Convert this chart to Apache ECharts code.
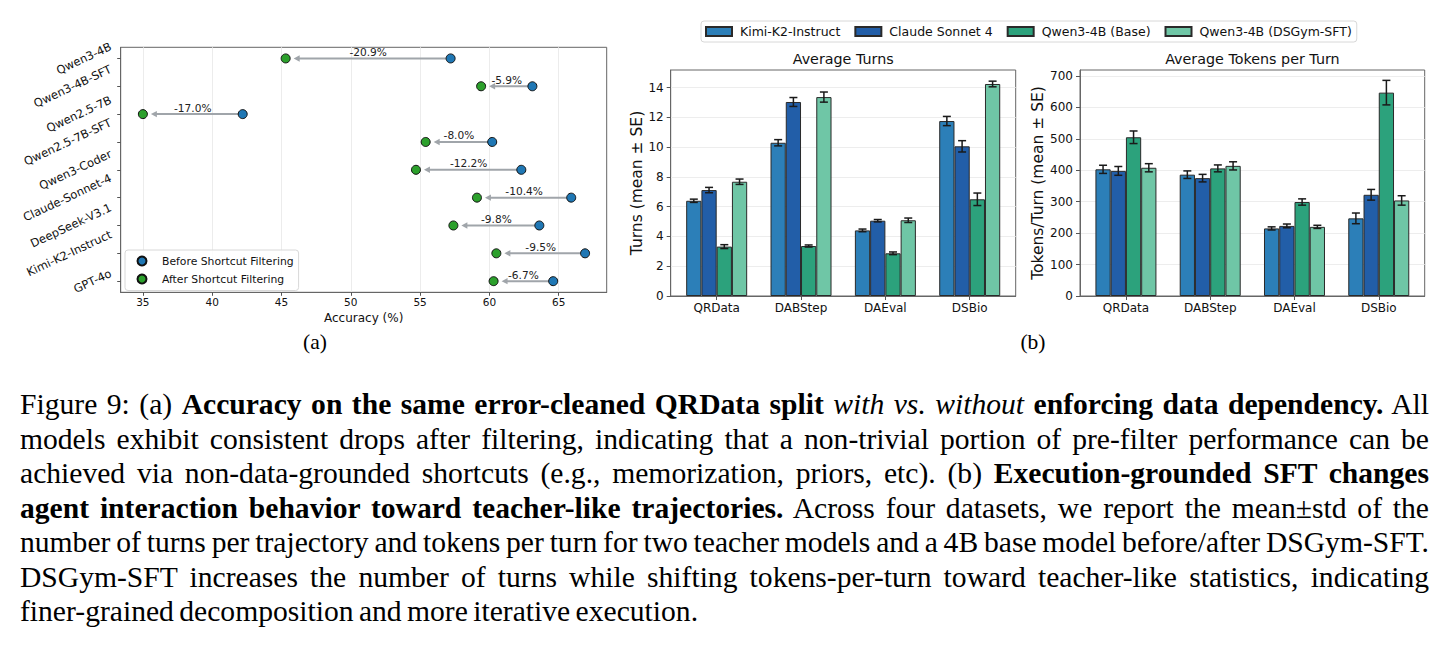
<!DOCTYPE html>
<html>
<head>
<meta charset="utf-8">
<script src="https://cdn.jsdelivr.net/npm/echarts@6/dist/echarts.min.js"></script>
<style>
    body { margin: 0; background: #fff; width: 1451px; height: 650px; overflow: hidden; position: relative; }
    #chart { position: absolute; left: 0; top: 0; width: 1451px; height: 370px; }
    .sub { position: absolute; top: 330px; font-family: "Liberation Serif"; font-size: 21.5px; transform: translateX(-50%); }
    #cap { position: absolute; left: 20px; top: 387.3px; width: 1409px; font-family: "Liberation Serif"; font-size: 29.6px; line-height: 34.5px; word-spacing: -2px; color: #000; }
    #cap div { text-align: justify; text-align-last: justify; }
    #cap div.last { text-align-last: left; }
</style>
</head>
<body>
<div id="chart"></div>
<div class="sub" style="left:315px">(a)</div>
<div class="sub" style="left:1033px">(b)</div>
<div id="cap">
    <div>Figure 9: (a) <b>Accuracy on the same error-cleaned QRData split</b> <i>with vs. without</i> <b>enforcing data dependency.</b> All</div>
    <div>models exhibit consistent drops after filtering, indicating that a non-trivial portion of pre-filter performance can be</div>
    <div>achieved via non-data-grounded shortcuts (e.g., memorization, priors, etc). (b) <b>Execution-grounded SFT changes</b></div>
    <div><b>agent interaction behavior toward teacher-like trajectories.</b> Across four datasets, we report the mean±std of the</div>
    <div>number of turns per trajectory and tokens per turn for two teacher models and a 4B base model before/after DSGym-SFT.</div>
    <div>DSGym-SFT increases the number of turns while shifting tokens-per-turn toward teacher-like statistics, indicating</div>
    <div class="last">finer-grained decomposition and more iterative execution.</div>
</div>
<script>
    // (a) accuracy before / after shortcut filtering
    var models = ['Qwen3-4B', 'Qwen3-4B-SFT', 'Qwen2.5-7B', 'Qwen2.5-7B-SFT', 'Qwen3-Coder',
                  'Claude-Sonnet-4', 'DeepSeek-V3.1', 'Kimi-K2-Instruct', 'GPT-4o'];
    var accBefore = [57.2, 63.1, 42.2, 60.2, 62.3, 65.9, 63.6, 66.9, 64.6];
    var accAfter = [45.3, 59.4, 35.0, 55.4, 54.7, 59.1, 57.4, 60.5, 60.3];
    var dropText = ['-20.9%', '-5.9%', '-17.0%', '-8.0%', '-12.2%', '-10.4%', '-9.8%', '-9.5%', '-6.7%'];
    var accTicks = [35, 40, 45, 50, 55, 60, 65];

    // (b) turns and tokens per turn, one row per agent, one column per dataset
    var datasets = ['QRData', 'DABStep', 'DAEval', 'DSBio'];
    var agents = ['Kimi-K2-Instruct', 'Claude Sonnet 4', 'Qwen3-4B (Base)', 'Qwen3-4B (DSGym-SFT)'];
    var agentColors = ['#2c7fb8', '#225ea8', '#2ca27c', '#6fc6a6'];
    var turnsMean = [
        [6.40, 10.30, 4.41, 11.76],
        [7.12, 13.04, 5.06, 10.06],
        [3.32, 3.36, 2.87, 6.50],
        [7.68, 13.37, 5.09, 14.25]
    ];
    var turnsSE = [
        [0.11, 0.21, 0.09, 0.31],
        [0.18, 0.30, 0.08, 0.38],
        [0.13, 0.07, 0.09, 0.42],
        [0.18, 0.34, 0.15, 0.19]
    ];
    var tokensMean = [
        [403, 386, 215, 247],
        [398, 375, 223, 322],
        [505, 406, 299, 647],
        [408, 414, 220, 304]
    ];
    var tokensSE = [
        [13, 12, 5, 17],
        [14, 12, 6, 17],
        [20, 11, 10, 39],
        [13, 13, 5, 15]
    ];
    var turnTicks = [0, 2, 4, 6, 8, 10, 12, 14];
    var tokenTicks = [0, 100, 200, 300, 400, 500, 600, 700];

    var FONT = 'DejaVu Sans';
    var accMin = 33.4, accMax = 68.46;
    var barW = 15.25;
    var frame = '#666';

    var measureCtx = document.createElement('canvas').getContext('2d');
    function textWidth(s, size) {
        measureCtx.font = size + 'px "' + FONT + '"';
        return measureCtx.measureText(s).width;
    }

    var myChart = echarts.init(document.getElementById('chart'), null, {renderer: 'svg'});

    // rotated model names, placed like matplotlib (bbox centred on the tick)
    var nameSeries = {
        type: 'custom', xAxisIndex: 0, yAxisIndex: 0, clip: false, silent: true,
        data: models.map(function (m, i) { return [accMin, i]; }),
        renderItem: function (params, api) {
            var p = api.coord([api.value(0), api.value(1)]);
            var name = models[params.dataIndex];
            var th = 25 * Math.PI / 180, fs = 11.5;
            var w = textWidth(name, fs);
            return {
                type: 'text',
                x: p[0] - 7 - fs * 0.6 * Math.sin(th),
                y: p[1] - w * Math.sin(th) / 2,
                rotation: th,
                style: {text: name, align: 'right', verticalAlign: 'middle',
                        fontSize: fs, fontFamily: FONT, fill: '#111'}
            };
        }
    };

    // arrows from before to after, with relative drop text
    var arrowSeries = {
        type: 'custom', xAxisIndex: 0, yAxisIndex: 0, silent: true, z: 2,
        encode: {x: [0, 1], y: 2},
        data: models.map(function (m, i) { return [accBefore[i], accAfter[i], i]; }),
        renderItem: function (params, api) {
            var p1 = api.coord([api.value(0), api.value(2)]);
            var p2 = api.coord([api.value(1), api.value(2)]);
            var y = p1[1], tip = p2[0] + 8;
            var grey = '#a0a5aa';
            return {
                type: 'group',
                children: [
                    {type: 'line', shape: {x1: p1[0], y1: y, x2: tip + 4, y2: y},
                     style: {stroke: grey, lineWidth: 2}},
                    {type: 'polygon', shape: {points: [[tip, y], [tip + 6, y - 3.2], [tip + 6, y + 3.2]]},
                     style: {fill: grey}},
                    {type: 'text', x: (p1[0] + p2[0]) / 2, y: y - 6.5,
                     style: {text: dropText[params.dataIndex], align: 'center', verticalAlign: 'middle',
                             fontSize: 10.6, fontFamily: FONT, fill: '#222'}}
                ]
            };
        }
    };

    function barSeries(idx, mean) {
        return agents.map(function (a, s) {
            return {
                type: 'bar', name: a, xAxisIndex: idx, yAxisIndex: idx,
                barWidth: barW, barGap: '0%',
                data: datasets.map(function (d, c) { return [c, mean[s][c]]; }),
                itemStyle: {color: agentColors[s], borderColor: '#2a2a2a', borderWidth: 1}
            };
        });
    }

    function errSeries(idx, mean, se) {
        var data = [];
        agents.forEach(function (a, s) {
            datasets.forEach(function (d, c) {
                data.push([c, mean[s][c] - se[s][c], mean[s][c] + se[s][c], s]);
            });
        });
        return {
            type: 'custom', xAxisIndex: idx, yAxisIndex: idx, silent: true, z: 5,
            encode: {x: 0, y: [1, 2]},
            data: data,
            renderItem: function (params, api) {
                var lo = api.coord([api.value(0), api.value(1)]);
                var hi = api.coord([api.value(0), api.value(2)]);
                var x = lo[0] + (api.value(3) - 1.5) * barW;
                var st = {stroke: '#1a1a1a', lineWidth: 1.5};
                return {
                    type: 'group',
                    children: [
                        {type: 'line', shape: {x1: x, y1: lo[1], x2: x, y2: hi[1]}, style: st},
                        {type: 'line', shape: {x1: x - 4, y1: lo[1], x2: x + 4, y2: lo[1]}, style: st},
                        {type: 'line', shape: {x1: x - 4, y1: hi[1], x2: x + 4, y2: hi[1]}, style: st}
                    ]
                };
            }
        };
    }

    function tickAxis(extra) {
        var base = {
            type: 'value',
            axisLine: {show: true, onZero: false, lineStyle: {color: frame}},
            axisTick: {show: true, length: 4, lineStyle: {color: '#555'}},
            axisLabel: {color: '#111', fontFamily: FONT, fontSize: 12},
            nameTextStyle: {color: '#111', fontFamily: FONT},
            splitLine: {show: false}
        };
        for (var k in extra) {
            if (typeof extra[k] === 'object' && base[k] && !Array.isArray(extra[k])) {
                base[k] = Object.assign({}, base[k], extra[k]);
            } else {
                base[k] = extra[k];
            }
        }
        return base;
    }

    var catIdx = datasets.map(function (d, i) { return i; });
    var rowIdx = models.map(function (m, i) { return i; });

    var option = {
        animation: false,
        textStyle: {fontFamily: FONT},
        grid: [
            {left: 120.7, top: 47.3, width: 486, height: 245, show: true, borderColor: frame, borderWidth: 1, outerBoundsMode: 'none'},
            {left: 670.7, top: 70, width: 345, height: 226, show: true, borderColor: frame, borderWidth: 1, outerBoundsMode: 'none'},
            {left: 1080, top: 70, width: 344.7, height: 226, show: true, borderColor: frame, borderWidth: 1, outerBoundsMode: 'none'}
        ],
        legend: [
            {
                data: ['Before Shortcut Filtering', 'After Shortcut Filtering'],
                orient: 'vertical', left: 125, top: 250,
                icon: 'circle', itemWidth: 9, itemHeight: 9, itemGap: 7,
                padding: [5.5, 5, 6, 11.5],
                textStyle: {fontSize: 10.8, color: '#111', fontFamily: FONT, padding: [0, 0, 0, 10.5]},
                backgroundColor: 'rgba(255,255,255,0.85)',
                borderColor: '#d8d8d8', borderWidth: 1, borderRadius: 3,
                selectedMode: false
            },
            {
                data: agents,
                orient: 'horizontal', left: 701, top: 21,
                icon: 'rect', itemWidth: 26, itemHeight: 9, itemGap: 14,
                padding: [4, 5, 4, 4],
                textStyle: {fontSize: 12.5, color: '#111', fontFamily: FONT, padding: [0, 0, 0, 3]},
                borderColor: '#d8d8d8', borderWidth: 1, borderRadius: 3,
                selectedMode: false
            }
        ],
        graphic: [
            {type: 'text', x: 843.2, y: 59.3, style: {text: 'Average Turns', align: 'center', verticalAlign: 'middle',
                fontSize: 14.3, fontFamily: FONT, fill: '#111'}},
            {type: 'text', x: 1252.4, y: 59.3, style: {text: 'Average Tokens per Turn', align: 'center', verticalAlign: 'middle',
                fontSize: 14.3, fontFamily: FONT, fill: '#111'}}
        ],
        xAxis: [
            tickAxis({
                gridIndex: 0, min: accMin, max: accMax,
                axisTick: {customValues: accTicks, length: 3.5},
                axisLabel: {customValues: accTicks, fontSize: 10.5, margin: 4},
                splitLine: {show: true, lineStyle: {color: '#ececec'}},
                name: 'Accuracy (%)', nameLocation: 'middle', nameGap: 13.5,
                nameTextStyle: {fontSize: 12}
            }),
            tickAxis({
                gridIndex: 1, min: -0.545, max: 3.545,
                axisTick: {customValues: catIdx},
                axisLabel: {customValues: catIdx, margin: 6, formatter: function (v) { return datasets[v]; }}
            }),
            tickAxis({
                gridIndex: 2, min: -0.545, max: 3.545,
                axisTick: {customValues: catIdx},
                axisLabel: {customValues: catIdx, margin: 6, formatter: function (v) { return datasets[v]; }}
            })
        ],
        yAxis: [
            tickAxis({
                gridIndex: 0, min: -0.4, max: 8.4, inverse: true,
                axisTick: {customValues: rowIdx, length: 3.5},
                axisLabel: {show: false, customValues: rowIdx}
            }),
            tickAxis({
                gridIndex: 1, min: 0, max: 15.19,
                axisTick: {customValues: turnTicks},
                axisLabel: {customValues: turnTicks, margin: 7},
                splitLine: {show: true, lineStyle: {color: '#ededed'}},
                name: 'Turns (mean ± SE)', nameLocation: 'middle', nameGap: 24,
                nameTextStyle: {fontSize: 15.5}
            }),
            tickAxis({
                gridIndex: 2, min: 0, max: 719,
                axisTick: {customValues: tokenTicks},
                axisLabel: {customValues: tokenTicks, margin: 7},
                splitLine: {show: true, lineStyle: {color: '#ededed'}},
                name: 'Tokens/Turn (mean ± SE)', nameLocation: 'middle', nameGap: 34,
                nameTextStyle: {fontSize: 15.5}
            })
        ],
        series: [
            nameSeries,
            arrowSeries,
            {
                type: 'scatter', name: 'Before Shortcut Filtering', xAxisIndex: 0, yAxisIndex: 0, z: 4,
                symbolSize: 9,
                data: models.map(function (m, i) { return [accBefore[i], i]; }),
                itemStyle: {color: '#1f77b4', borderColor: '#111', borderWidth: 1, opacity: 1}
            },
            {
                type: 'scatter', name: 'After Shortcut Filtering', xAxisIndex: 0, yAxisIndex: 0, z: 4,
                symbolSize: 9,
                data: models.map(function (m, i) { return [accAfter[i], i]; }),
                itemStyle: {color: '#2ca02c', borderColor: '#111', borderWidth: 1, opacity: 1}
            }
        ]
            .concat(barSeries(1, turnsMean))
            .concat([errSeries(1, turnsMean, turnsSE)])
            .concat(barSeries(2, tokensMean))
            .concat([errSeries(2, tokensMean, tokensSE)])
    };

    myChart.setOption(option);
</script>
</body>
</html>
